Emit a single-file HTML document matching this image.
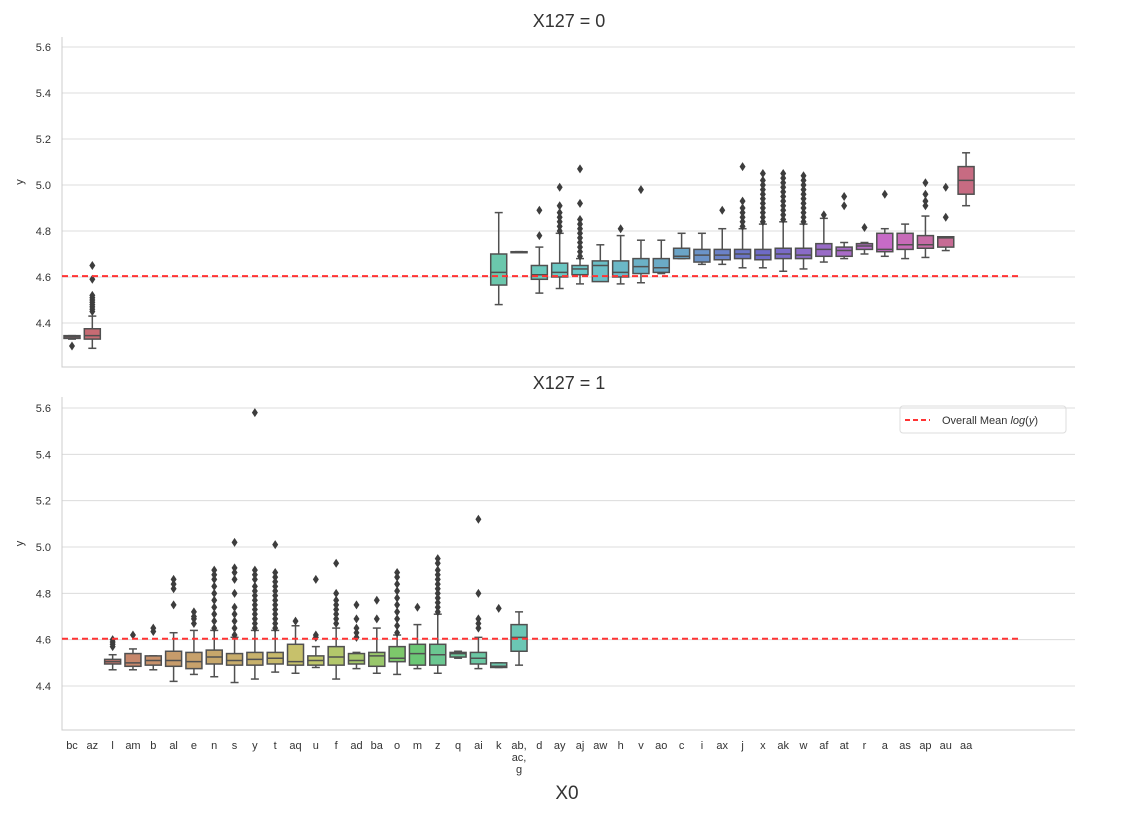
<!DOCTYPE html>
<html><head><meta charset="utf-8">
<style>
body{margin:0;background:#fff;font-family:"Liberation Sans",sans-serif;}
svg text{font-family:"Liberation Sans",sans-serif;fill:#333;}
</style></head>
<body>
<svg id="chart" width="1122" height="809" xmlns="http://www.w3.org/2000/svg">
<text x="569" y="27" font-size="18" text-anchor="middle">X127 = 0</text>
<text x="569" y="389" font-size="18" text-anchor="middle">X127 = 1</text>
<text x="567" y="799" font-size="19" text-anchor="middle">X0</text>
<g>
<rect x="900" y="406" width="166" height="27" rx="3" fill="#fff" stroke="#ddd"/>
<line x1="905" y1="420" x2="930" y2="420" stroke="#f33" stroke-width="2" stroke-dasharray="5,3"/>
<text x="942" y="424" font-size="11">Overall Mean <tspan font-style="italic">log</tspan>(<tspan font-style="italic">y</tspan>)</text>
</g>
</svg>
<script>
const categories=["bc","az","l","am","b","al","e","n","s","y","t","aq","u","f","ad","ba","o","m","z","q","ai","k","ab,ac,g","d","ay","aj","aw","h","v","ao","c","i","ax","j","x","ak","w","af","at","r","a","as","ap","au","aa"];
const yTicks=[4.4,4.6,4.8,5.0,5.2,5.4,5.6];
const meanValue=4.604;
// [category, whislo, q1, median, q3, whishi, outliers]
const top0=[
["bc",4.33,4.333,4.34,4.345,4.345,[4.30]],
["az",4.29,4.33,4.345,4.375,4.43,[4.45,4.46,4.47,4.48,4.49,4.50,4.51,4.52,4.59,4.65]],
["k",4.48,4.565,4.62,4.70,4.88,[]],
["ab,ac,g",4.71,4.71,4.71,4.71,4.71,[]],
["d",4.53,4.59,4.61,4.65,4.73,[4.78,4.89]],
["ay",4.55,4.60,4.62,4.66,4.79,[4.80,4.82,4.84,4.86,4.88,4.91,4.99]],
["aj",4.57,4.61,4.635,4.65,4.68,[4.69,4.71,4.73,4.75,4.77,4.79,4.81,4.83,4.85,4.92,5.07]],
["aw",4.585,4.58,4.65,4.67,4.74,[]],
["h",4.57,4.60,4.62,4.67,4.78,[4.81]],
["v",4.575,4.615,4.645,4.68,4.76,[4.98]],
["ao",4.615,4.62,4.64,4.68,4.76,[]],
["c",4.68,4.68,4.69,4.725,4.79,[]],
["i",4.655,4.665,4.695,4.72,4.79,[]],
["ax",4.655,4.675,4.695,4.72,4.81,[4.89]],
["j",4.64,4.68,4.70,4.72,4.81,[4.82,4.84,4.86,4.88,4.90,4.93,5.08]],
["x",4.64,4.675,4.695,4.72,4.83,[4.84,4.86,4.88,4.90,4.92,4.94,4.96,4.98,5.00,5.02,5.05]],
["ak",4.625,4.68,4.70,4.725,4.84,[4.85,4.87,4.89,4.91,4.93,4.95,4.97,4.99,5.01,5.03,5.05]],
["w",4.635,4.68,4.695,4.725,4.83,[4.84,4.86,4.88,4.90,4.92,4.94,4.96,4.98,5.00,5.02,5.04]],
["af",4.665,4.69,4.72,4.745,4.855,[4.87]],
["at",4.68,4.69,4.715,4.73,4.75,[4.91,4.95]],
["r",4.70,4.72,4.735,4.745,4.75,[4.815]],
["a",4.69,4.71,4.72,4.79,4.81,[4.96]],
["as",4.68,4.72,4.74,4.79,4.83,[]],
["ap",4.685,4.725,4.74,4.78,4.865,[4.91,4.93,4.96,5.01]],
["au",4.715,4.73,4.77,4.775,4.775,[4.86,4.99]],
["aa",4.91,4.96,5.02,5.08,5.14,[]]
];
const bottom1=[
["l",4.47,4.495,4.505,4.515,4.535,[4.57,4.58,4.59,4.60]],
["am",4.47,4.485,4.50,4.54,4.56,[4.62]],
["b",4.47,4.49,4.51,4.53,4.53,[4.635,4.65]],
["al",4.42,4.485,4.51,4.55,4.63,[4.75,4.82,4.84,4.86]],
["e",4.45,4.475,4.505,4.545,4.64,[4.67,4.69,4.70,4.72]],
["n",4.44,4.495,4.525,4.555,4.64,[4.65,4.68,4.71,4.74,4.77,4.80,4.83,4.86,4.88,4.90]],
["s",4.415,4.49,4.51,4.54,4.61,[4.62,4.65,4.68,4.71,4.74,4.80,4.86,4.89,4.91,5.02]],
["y",4.43,4.49,4.515,4.545,4.64,[4.65,4.67,4.69,4.71,4.73,4.75,4.77,4.79,4.81,4.83,4.86,4.88,4.90,5.58]],
["t",4.46,4.495,4.52,4.545,4.64,[4.65,4.67,4.69,4.71,4.73,4.75,4.77,4.79,4.81,4.83,4.85,4.87,4.89,5.01]],
["aq",4.455,4.49,4.505,4.58,4.66,[4.68]],
["u",4.48,4.49,4.51,4.53,4.57,[4.61,4.62,4.86]],
["f",4.43,4.49,4.525,4.57,4.65,[4.67,4.69,4.71,4.73,4.75,4.77,4.80,4.93]],
["ad",4.475,4.495,4.51,4.54,4.545,[4.61,4.63,4.65,4.69,4.75]],
["ba",4.455,4.485,4.53,4.545,4.65,[4.69,4.77]],
["o",4.45,4.505,4.52,4.57,4.62,[4.63,4.66,4.69,4.72,4.75,4.78,4.81,4.84,4.87,4.89]],
["m",4.475,4.49,4.54,4.58,4.665,[4.74]],
["z",4.455,4.49,4.535,4.58,4.71,[4.72,4.74,4.76,4.78,4.80,4.82,4.84,4.86,4.88,4.90,4.93,4.95]],
["q",4.52,4.525,4.54,4.545,4.55,[]],
["ai",4.475,4.495,4.52,4.545,4.61,[4.65,4.67,4.69,4.80,5.12]],
["k",4.48,4.48,4.485,4.50,4.50,[4.735]],
["ab,ac,g",4.49,4.55,4.61,4.665,4.72,[]]
];
const NS="http://www.w3.org/2000/svg";
const svg=document.getElementById('chart');
const hueKeys=[[0,350],[1,355],[3,18],[5,32],[9,46],[11,56],[15,90],[18,145],[22,168],[26,185],[30,203],[32,225],[35,250],[38,280],[41,310],[44,345]];
function hueAt(i){for(let k=0;k<hueKeys.length-1;k++){const a=hueKeys[k],b=hueKeys[k+1];if(i>=a[0]&&i<=b[0]){let h1=a[1],h2=b[1];if(h2<h1&&h1-h2>180)h2+=360;return (h1+(h2-h1)*(i-a[0])/(b[0]-a[0]))%360;}}return 345;}
function xPos(cat){return 72+categories.indexOf(cat)*20.32;}
function mk(tag,attrs,parent){const e=document.createElementNS(NS,tag);for(const k in attrs)e.setAttribute(k,attrs[k]);parent.appendChild(e);return e;}
function panel(top,bottom,vTop,vBot,data,pname,showX){
  const y=v=>vBot-(v-4.4)*(vBot-vTop)/1.2;
  const g=mk('g',{},svg);
  
  
  yTicks.forEach(t=>{
    const gl=mk('line',{x1:62,x2:1075,y1:y(t),y2:y(t),stroke:'#dcdcdc','stroke-width':1},g);
    
    
    const tl=mk('text',{x:51,y:y(t)+4,'font-size':11,'text-anchor':'end'},g);
    tl.textContent=t.toFixed(1);
    
    
  });
  const ax=mk('path',{d:`M62,${top} V${bottom} H1075`,stroke:'#ccc',fill:'none'},g);
  
  
  const yl=mk('text',{x:23,y:(top+bottom)/2-20,'font-size':11,'text-anchor':'middle',transform:`rotate(-90 23 ${(top+bottom)/2-20})`},g);
  yl.textContent='y';
  
  
  data.forEach(d=>{
    const [c,lo,q1,md,q3,hi,outs]=d;
    const x=xPos(c),i=categories.indexOf(c);
    const bg=mk('g',{},g);
    
    
    const st='#505050';
    mk('line',{x1:x,x2:x,y1:y(hi),y2:y(q3),stroke:st,'stroke-width':1.5},bg);
    mk('line',{x1:x,x2:x,y1:y(lo),y2:y(q1),stroke:st,'stroke-width':1.5},bg);
    mk('line',{x1:x-4,x2:x+4,y1:y(hi),y2:y(hi),stroke:st,'stroke-width':1.5},bg);
    mk('line',{x1:x-4,x2:x+4,y1:y(lo),y2:y(lo),stroke:st,'stroke-width':1.5},bg);
    mk('rect',{x:x-8,y:y(q3),width:16,height:Math.max(1,y(q1)-y(q3)),fill:`hsl(${hueAt(i)},45%,60%)`,stroke:st,'stroke-width':1.5},bg);
    mk('line',{x1:x-8,x2:x+8,y1:y(md),y2:y(md),stroke:st,'stroke-width':1.5},bg);
    outs.forEach(o=>{const py=y(o);mk('path',{d:`M${x},${py-4.5} L${x+3},${py} L${x},${py+4.5} L${x-3},${py}Z`,fill:'#3d3d3d'},bg);});
  });
  const ml=mk('line',{x1:62,x2:1022,y1:y(meanValue),y2:y(meanValue),stroke:'#f33','stroke-width':2,'stroke-dasharray':'6,4'},g);
  
  
  if(showX){
    categories.forEach(c=>{
      const t=mk('text',{x:xPos(c),y:bottom+19,'font-size':11,'text-anchor':'middle'},g);
      
      
      c.split(',').forEach((p,k,arr)=>{const ts=mk('tspan',{x:xPos(c),dy:k?12:0},t);ts.textContent=p+(k<arr.length-1?',':'');});
    });
  }
}
panel(37,367,47,323,top0,'top-panel',false);
panel(397,730,408,686,bottom1,'bottom-panel',true);
</script>
</body></html>
